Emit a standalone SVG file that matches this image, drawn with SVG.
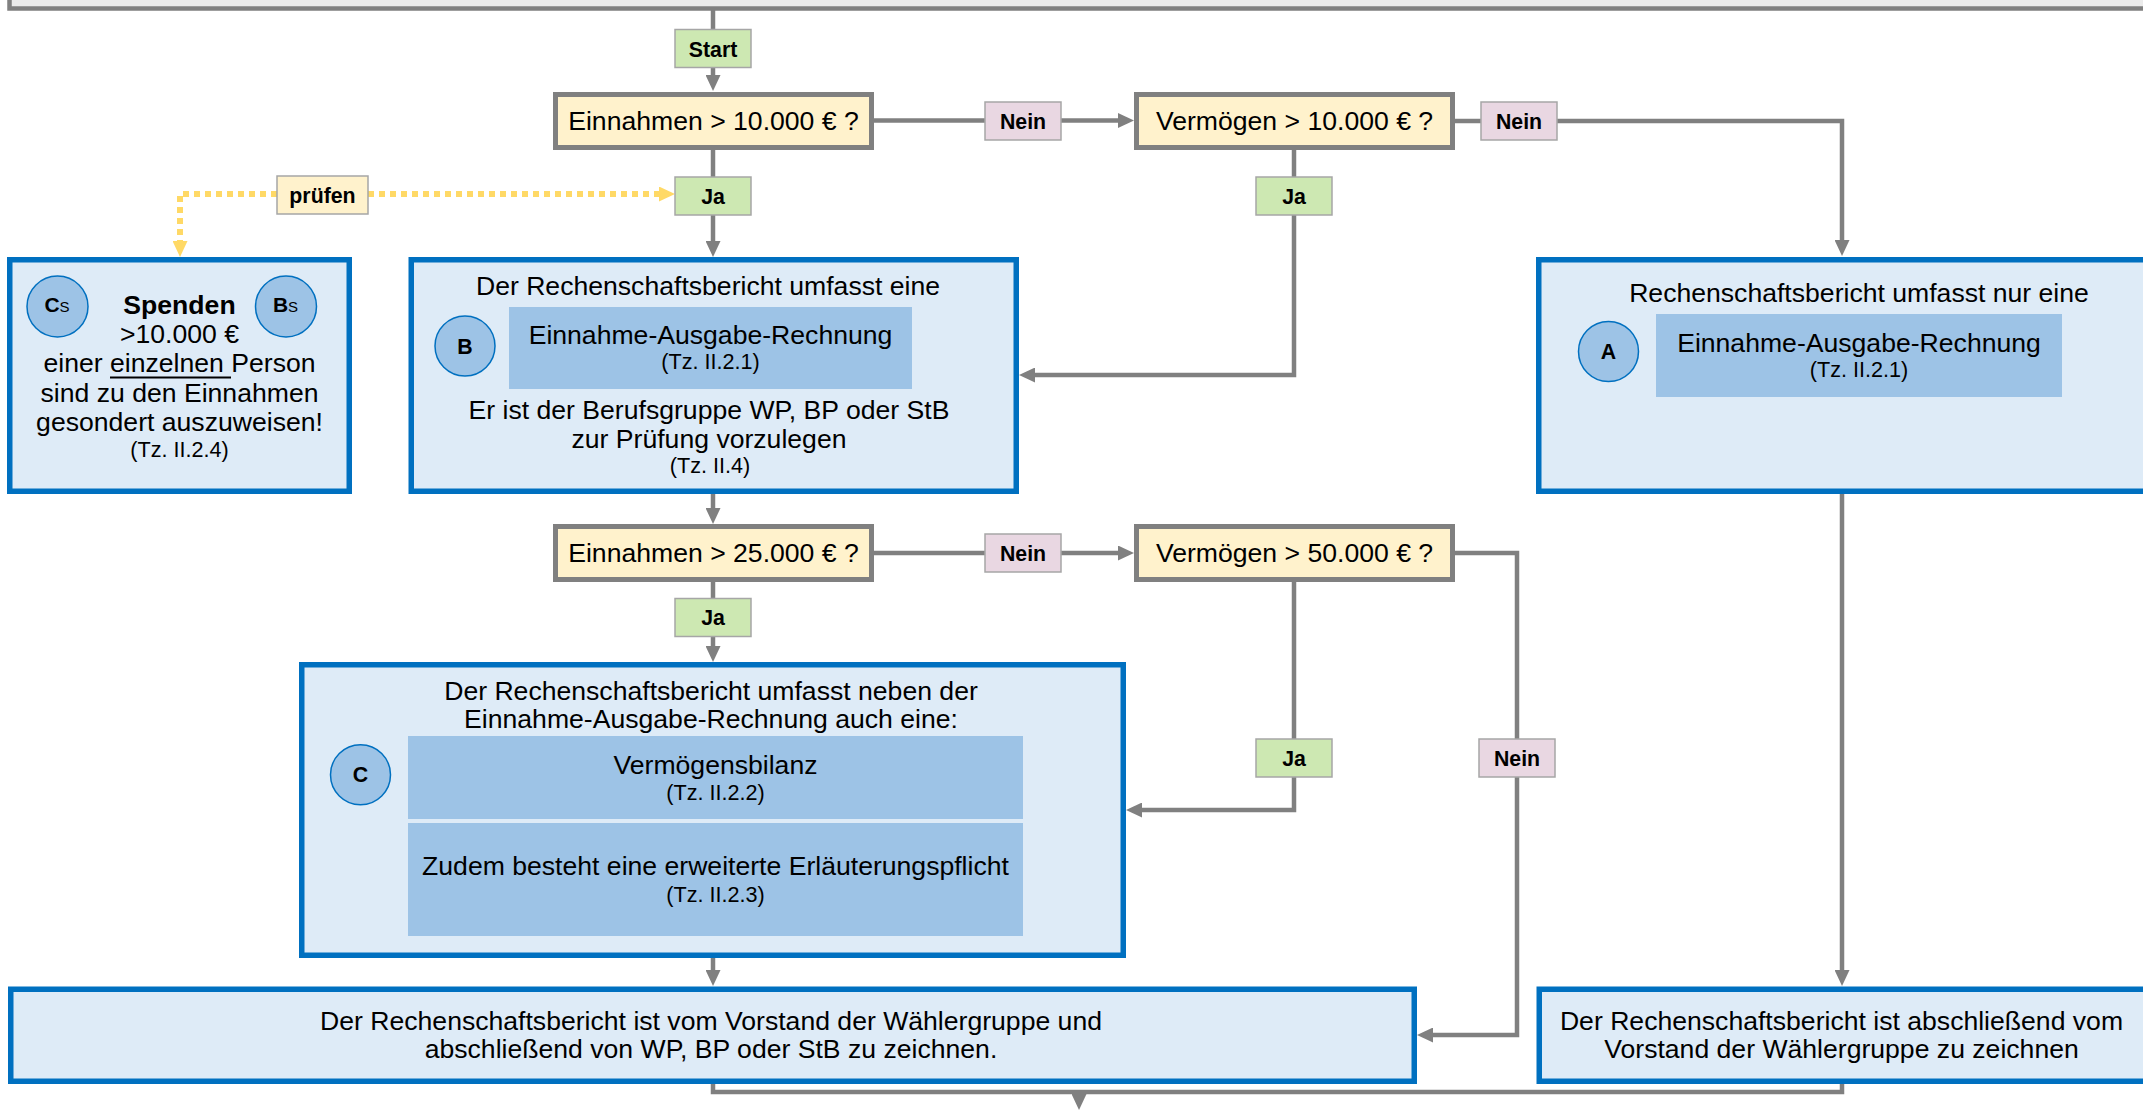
<svg xmlns="http://www.w3.org/2000/svg" width="2143" height="1112" viewBox="0 0 2143 1112">
<defs>
<marker id="ah" markerUnits="userSpaceOnUse" markerWidth="16" markerHeight="15" viewBox="0 0 16 15" refX="2" refY="7.5" orient="auto"><path d="M0,0 L16,7.5 L0,15 z" fill="#808080"/></marker>
<marker id="ahy" markerUnits="userSpaceOnUse" markerWidth="16" markerHeight="15" viewBox="0 0 16 15" refX="2" refY="7.5" orient="auto"><path d="M0,0 L16,7.5 L0,15 z" fill="#ffd966"/></marker>
</defs>
<style>
text{font-family:"Liberation Sans",Arial,sans-serif;fill:#000}
.t{font-size:26.6px;text-anchor:middle}
.s{font-size:21.6px;text-anchor:middle}
.lb{font-size:21.3px;font-weight:bold;text-anchor:middle}
.conn{fill:none;stroke:#808080;stroke-width:4.5}
.arr{marker-end:url(#ah)}
.dot{fill:none;stroke:#ffd966;stroke-width:6;stroke-dasharray:6 5;marker-end:url(#ahy)}
.dec{fill:#fff2cc;stroke:#808080;stroke-width:5}
.box{fill:#deebf7;stroke:#0070c0;stroke-width:5.5}
.inner{fill:#9dc3e6}
.circ{fill:#9dc3e6;stroke:#0070c0;stroke-width:1.5}
.ja{fill:#cde8b2;stroke:#a6a6a6;stroke-width:1.5}
.nein{fill:#e9d7e2;stroke:#a6a6a6;stroke-width:1.5}
.pr{fill:#fff2cc;stroke:#a6a6a6;stroke-width:1.5}
</style>
<rect x="9.5" y="-50" width="2200" height="58.5" fill="#ebebeb" stroke="#808080" stroke-width="4.5"/>
<g id="connectors">
<path class="conn" d="M713,10 V30"/>
<path class="conn arr" d="M713,68 V77"/>
<path class="conn" d="M874,120.5 H985"/>
<path class="conn arr" d="M1061,120.5 H1120"/>
<path class="conn" d="M713,150 V177"/>
<path class="conn arr" d="M713,215 V243"/>
<path class="conn" d="M1455,121 H1481"/>
<path class="conn arr" d="M1557,121 H1842 V242"/>
<path class="conn" d="M1294,150 V177"/>
<path class="conn arr" d="M1294,215 V375 H1033"/>
<path class="conn arr" d="M713,494 V510"/>
<path class="conn" d="M874,553 H985"/>
<path class="conn arr" d="M1061,553 H1120"/>
<path class="conn" d="M713,582 V598"/>
<path class="conn arr" d="M713,637 V648"/>
<path class="conn" d="M1294,582 V739"/>
<path class="conn arr" d="M1294,777 V810 H1140"/>
<path class="conn" d="M1455,553 H1517 V739"/>
<path class="conn arr" d="M1517,777 V1035 H1431"/>
<path class="conn arr" d="M1842,494 V972"/>
<path class="conn arr" d="M713,958 V972"/>
<path class="conn" d="M713,1084 V1092 H1842 V1084"/>
<path class="conn arr" d="M1079,1092 V1096"/>
<path class="dot" d="M368,194 H661"/>
<path class="dot" d="M277,194 H180 V243"/>
</g>
<g id="start"><rect class="ja" x="675" y="29.5" width="76" height="38"/><text class="lb" x="713" y="57">Start</text></g>
<g id="dec1"><rect class="dec" x="555.5" y="94.5" width="316" height="53"/><text class="t" x="713.5" y="130">Einnahmen &gt; 10.000 € ?</text></g>
<g id="nein1"><rect class="nein" x="985" y="102" width="76" height="38"/><text class="lb" x="1023" y="129">Nein</text></g>
<g id="dec2"><rect class="dec" x="1136.5" y="94.5" width="316" height="53"/><text class="t" x="1294.5" y="130">Vermögen &gt; 10.000 € ?</text></g>
<g id="nein2"><rect class="nein" x="1481" y="102" width="76" height="38"/><text class="lb" x="1519" y="129">Nein</text></g>
<g id="ja1"><rect class="ja" x="675" y="177" width="76" height="38"/><text class="lb" x="713" y="203.5">Ja</text></g>
<g id="ja2"><rect class="ja" x="1256" y="177" width="76" height="38"/><text class="lb" x="1294" y="203.5">Ja</text></g>
<g id="pruefen"><rect class="pr" x="277" y="176" width="91" height="38"/><text class="lb" x="322.5" y="202.5">prüfen</text></g>
<g id="spenden">
<rect class="box" x="9.75" y="259.75" width="339.5" height="231.5"/>
<circle class="circ" cx="57.5" cy="306.5" r="30.5"/>
<text x="57" y="311.7" style="text-anchor:middle"><tspan font-weight="bold" font-size="21">C</tspan><tspan font-size="15">S</tspan></text>
<circle class="circ" cx="286" cy="306.5" r="30.5"/>
<text x="285.5" y="311.7" style="text-anchor:middle"><tspan font-weight="bold" font-size="21">B</tspan><tspan font-size="15">S</tspan></text>
<text class="t" x="179.5" y="314" font-weight="bold">Spenden</text>
<text class="t" x="179.5" y="343">&gt;10.000 €</text>
<text class="t" x="179.5" y="372">einer einzelnen Person</text>
<line x1="110" y1="377.5" x2="231" y2="377.5" stroke="#000" stroke-width="1.8"/>
<text class="t" x="179.5" y="401.5">sind zu den Einnahmen</text>
<text class="t" x="179.5" y="430.5">gesondert auszuweisen!</text>
<text class="s" x="179.5" y="456.5">(Tz. II.2.4)</text>
</g>
<g id="boxB">
<rect class="box" x="411.25" y="259.75" width="605" height="231.5"/>
<text class="t" x="708" y="295">Der Rechenschaftsbericht umfasst eine</text>
<rect class="inner" x="509" y="307" width="403" height="82"/>
<text class="t" x="710.5" y="344">Einnahme-Ausgabe-Rechnung</text>
<text class="s" x="710.5" y="369">(Tz. II.2.1)</text>
<circle class="circ" cx="465" cy="346" r="30"/>
<text class="lb" x="465" y="353.5">B</text>
<text class="t" x="709" y="419">Er ist der Berufsgruppe WP, BP oder StB</text>
<text class="t" x="709" y="448">zur Prüfung vorzulegen</text>
<text class="s" x="710" y="473">(Tz. II.4)</text>
</g>
<g id="boxA">
<rect class="box" x="1538.75" y="259.75" width="620" height="231.5"/>
<text class="t" x="1859" y="301.5">Rechenschaftsbericht umfasst nur eine</text>
<rect class="inner" x="1656" y="314" width="406" height="83"/>
<text class="t" x="1859" y="351.5">Einnahme-Ausgabe-Rechnung</text>
<text class="s" x="1859" y="376.5">(Tz. II.2.1)</text>
<circle class="circ" cx="1608.5" cy="351.5" r="30"/>
<text class="lb" x="1608.5" y="358.5">A</text>
</g>
<g id="dec3"><rect class="dec" x="555.5" y="526.5" width="316" height="53"/><text class="t" x="713.5" y="562">Einnahmen &gt; 25.000 € ?</text></g>
<g id="nein3"><rect class="nein" x="985" y="534" width="76" height="38"/><text class="lb" x="1023" y="561">Nein</text></g>
<g id="dec4"><rect class="dec" x="1136.5" y="526.5" width="316" height="53"/><text class="t" x="1294.5" y="562">Vermögen &gt; 50.000 € ?</text></g>
<g id="ja3"><rect class="ja" x="675" y="598.5" width="76" height="38"/><text class="lb" x="713" y="625">Ja</text></g>
<g id="ja4"><rect class="ja" x="1256" y="739" width="76" height="38"/><text class="lb" x="1294" y="766">Ja</text></g>
<g id="nein4"><rect class="nein" x="1479" y="739" width="76" height="38"/><text class="lb" x="1517" y="766">Nein</text></g>
<g id="boxC">
<rect class="box" x="301.75" y="664.75" width="821.5" height="290.5"/>
<text class="t" x="711" y="699.5">Der Rechenschaftsbericht umfasst neben der</text>
<text class="t" x="711" y="728">Einnahme-Ausgabe-Rechnung auch eine:</text>
<rect class="inner" x="408" y="736" width="615" height="83"/>
<text class="t" x="715.5" y="773.5">Vermögensbilanz</text>
<text class="s" x="715.5" y="800">(Tz. II.2.2)</text>
<rect class="inner" x="408" y="823" width="615" height="113"/>
<text class="t" x="715.5" y="875">Zudem besteht eine erweiterte Erläuterungspflicht</text>
<text class="s" x="715.5" y="901.5">(Tz. II.2.3)</text>
<circle class="circ" cx="360.5" cy="774.7" r="30"/>
<text class="lb" x="360.5" y="782">C</text>
</g>
<g id="boxBL">
<rect class="box" x="10.75" y="989.25" width="1403.5" height="92"/>
<text class="t" x="711" y="1030">Der Rechenschaftsbericht ist vom Vorstand der Wählergruppe und</text>
<text class="t" x="711" y="1058">abschließend von WP, BP oder StB zu zeichnen.</text>
</g>
<g id="boxBR">
<rect class="box" x="1539.25" y="989.25" width="620" height="92"/>
<text class="t" x="1841.5" y="1030">Der Rechenschaftsbericht ist abschließend vom</text>
<text class="t" x="1841.5" y="1058">Vorstand der Wählergruppe zu zeichnen</text>
</g>
</svg>
